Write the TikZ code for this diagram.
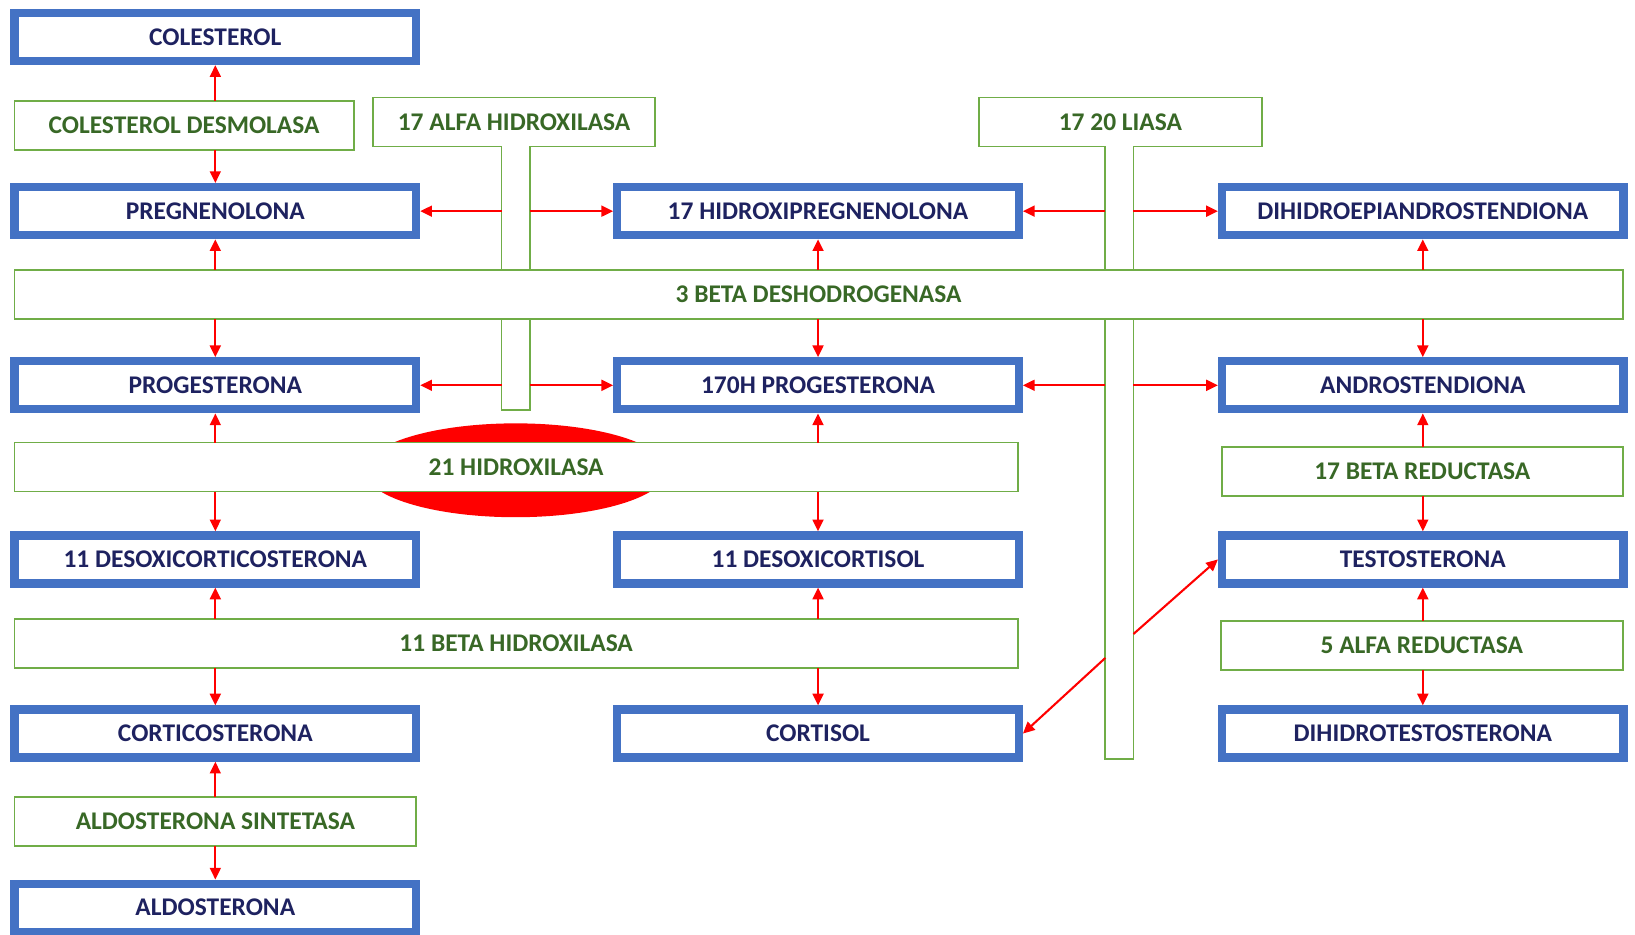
\documentclass[tikz,border=0pt]{standalone}
\usepackage{fontspec}
\setmainfont{Carlito}
\usepackage{tikz}
\usetikzlibrary{positioning,arrows.meta,shapes.geometric}
\definecolor{boxblue}{RGB}{68,114,196}
\definecolor{navytext}{RGB}{30,34,96}
\definecolor{enzgreen}{RGB}{112,173,71}
\definecolor{enztext}{RGB}{56,104,38}

\begin{document}
\begin{tikzpicture}[x=0.5pt,y=-0.5pt,node distance=83.5pt,on grid,
		metab/.style={rectangle, draw=boxblue, line width=4pt, fill=white, minimum width=192.5pt, minimum height=23pt, inner sep=0pt, text=navytext, font=\fontsize{12.2}{14}\selectfont\bfseries},
		enzyme/.style={rectangle, draw=enzgreen, line width=0.8pt, fill=white, minimum height=23.5pt, inner sep=0pt, outer sep=0pt, text=enztext, font=\fontsize{12.2}{14}\selectfont\bfseries},
		enzline/.style={draw=enzgreen, line width=0.8pt, fill=white},
		conv/.style={draw=red, line width=1pt, -{Triangle[width=5.2pt,length=5.6pt]}}]
		\useasboundingbox (0,0) rectangle (1568,896);
		\coordinate (alfaL) at (481,393);
		\coordinate (alfaR) at (508,393);
		\coordinate (liasaL) at (1060,728);
		\coordinate (liasaR) at (1087,728);
		\coordinate (liasaout1) at (1060,631);
		\coordinate (liasaout2) at (1087,608);
		\node[enzyme, draw=none, fill=none, minimum width=135.25pt] (alfa) at (493,117) {};
		\node[enzyme, draw=none, fill=none, minimum width=135.75pt] (liasa) at (1074.5,117) {};
		\draw[enzline] (alfa.south -| alfaL) -- (alfa.south west) -- (alfa.north west) -- (alfa.north east) -- (alfa.south east) -- (alfa.south -| alfaR) -- (alfaR) -- (alfaL) -- cycle;
		\draw[enzline] (liasa.south -| liasaL) -- (liasa.south west) -- (liasa.north west) -- (liasa.north east) -- (liasa.south east) -- (liasa.south -| liasaR) -- (liasaR) -- (liasaL) -- cycle;
		\node[enzyme, draw=none, fill=none] (alfatext) at (alfa) {17 ALFA HIDROXILASA};
		\node[enzyme, draw=none, fill=none] (liasatext) at (liasa) {17 20 LIASA};
		\node[ellipse, fill=red, minimum width=145pt, minimum height=45pt, inner sep=0pt] (blot) at (494.5,451) {};

		\node[enzyme, minimum width=162.75pt]	(desmolasa) 	at (176.5,120.5) 	{COLESTEROL DESMOLASA};
		\node[enzyme, minimum width=771.25pt] 	(tresbeta) 	at (785,282.5) 	{3 BETA DESHODROGENASA};
		\node[enzyme, minimum width=481.25pt] 	(hidrox21) 	at (495,448) 	{21 HIDROXILASA};
		\node[enzyme, minimum width=192.25pt] 	(betared) 	at (1364,452) 	{17 BETA REDUCTASA};
		\node[enzyme, minimum width=481.25pt] 	(hidrox11) 	at (495,617) 	{11 BETA HIDROXILASA};
		\node[enzyme, minimum width=192.75pt] 	(alfared) 	at (1363.5,619) 	{5 ALFA REDUCTASA};
		\node[enzyme, minimum width=192.75pt] 	(sintetasa) 	at (206.5,788) 	{ALDOSTERONA SINTETASA};

		\node[metab]	(colesterol) 	at (206.5,35.5) 	{COLESTEROL};
		\node[metab] 	(pregnenolona) 	[below=of colesterol] 	{PREGNENOLONA};
		\node[metab] 	(progesterona) 	[below=of pregnenolona] 	{PROGESTERONA};
		\node[metab] 	(doc) 	[below=of progesterona] 	{11 DESOXICORTICOSTERONA};
		\node[metab] 	(corticosterona) 	[below=of doc] 	{CORTICOSTERONA};
		\node[metab] 	(aldosterona) 	[below=of corticosterona] 	{ALDOSTERONA};
		\node[metab] 	(hidroxipreg) 	[right=289pt of pregnenolona] 	{17 HIDROXIPREGNENOLONA};
		\node[metab] 	(ohprogesterona) 	[below=of hidroxipreg] 	{170H PROGESTERONA};
		\node[metab] 	(desoxicortisol) 	[below=of ohprogesterona] 	{11 DESOXICORTISOL};
		\node[metab] 	(cortisol) 	[below=of desoxicortisol] 	{CORTISOL};
		\node[metab] 	(dhea) 	[right=290pt of hidroxipreg] 	{DIHIDROEPIANDROSTENDIONA};
		\node[metab] 	(androstendiona) 	[below=of dhea] 	{ANDROSTENDIONA};
		\node[metab] 	(testosterona) 	[below=of androstendiona] 	{TESTOSTERONA};
		\node[metab] 	(dht) 	[below=of testosterona] 	{DIHIDROTESTOSTERONA};

		\path[every edge/.style={conv}]
			(colesterol.south |- desmolasa.north) 	edge 	(colesterol.south)
			(pregnenolona.north |- desmolasa.south) 	edge 	(pregnenolona.north)
			(pregnenolona.south |- tresbeta.north) 	edge 	(pregnenolona.south)
			(progesterona.north |- tresbeta.south) 	edge 	(progesterona.north)
			(hidroxipreg.south |- tresbeta.north) 	edge 	(hidroxipreg.south)
			(ohprogesterona.north |- tresbeta.south) 	edge 	(ohprogesterona.north)
			(dhea.south |- tresbeta.north) 	edge 	(dhea.south)
			(androstendiona.north |- tresbeta.south) 	edge 	(androstendiona.north)
			(progesterona.south |- hidrox21.north) 	edge 	(progesterona.south)
			(doc.north |- hidrox21.south) 	edge 	(doc.north)
			(ohprogesterona.south |- hidrox21.north) 	edge 	(ohprogesterona.south)
			(desoxicortisol.north |- hidrox21.south) 	edge 	(desoxicortisol.north)
			(doc.south |- hidrox11.north) 	edge 	(doc.south)
			(corticosterona.north |- hidrox11.south) 	edge 	(corticosterona.north)
			(desoxicortisol.south |- hidrox11.north) 	edge 	(desoxicortisol.south)
			(cortisol.north |- hidrox11.south) 	edge 	(cortisol.north)
			(androstendiona.south |- betared.north) 	edge 	(androstendiona.south)
			(testosterona.north |- betared.south) 	edge 	(testosterona.north)
			(testosterona.south |- alfared.north) 	edge 	(testosterona.south)
			(dht.north |- alfared.south) 	edge 	(dht.north)
			(corticosterona.south |- sintetasa.north) 	edge 	(corticosterona.south)
			(aldosterona.north |- sintetasa.south) 	edge 	(aldosterona.north)
			(pregnenolona.east -| alfaL) 	edge 	(pregnenolona.east)
			(hidroxipreg.west -| alfaR) 	edge 	(hidroxipreg.west)
			(progesterona.east -| alfaL) 	edge 	(progesterona.east)
			(ohprogesterona.west -| alfaR) 	edge 	(ohprogesterona.west)
			(hidroxipreg.east -| liasaL) 	edge 	(hidroxipreg.east)
			(dhea.west -| liasaR) 	edge 	(dhea.west)
			(ohprogesterona.east -| liasaL) 	edge 	(ohprogesterona.east)
			(androstendiona.west -| liasaR) 	edge 	(androstendiona.west)
			(liasaout1) 	edge 	(cortisol.east)
			(liasaout2) 	edge 	(testosterona.west);
	\end{tikzpicture}
\end{document}
